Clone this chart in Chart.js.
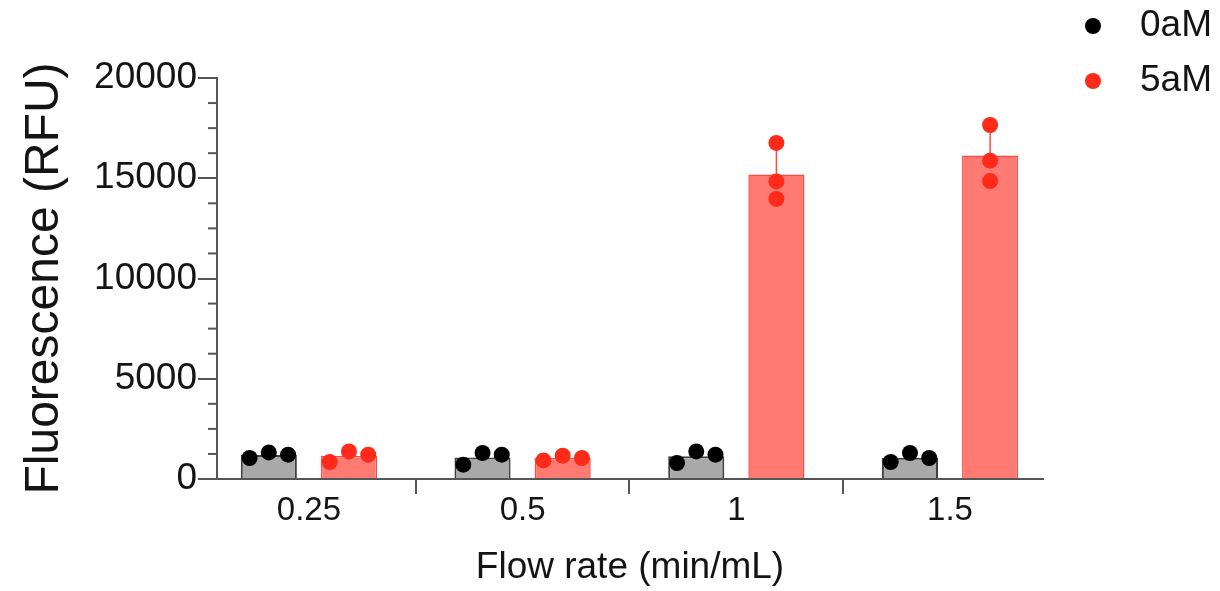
<!DOCTYPE html>
<html>
<head>
<meta charset="utf-8">
<script src="https://cdn.jsdelivr.net/npm/chart.js@4"></script>
<style>
  html, body { margin: 0; padding: 0; background: #fff; }
  #wrap { width: 1220px; height: 591px; position: relative; }
</style>
</head>
<body>
<div id="wrap"><canvas id="chart"></canvas></div>
<script>
// values (three replicates per flow rate)
const categories = ['0.25', '0.5', '1', '1.5'];
const seriesNames = ['0aM', '5aM'];
const values0aM = [[1047, 1327, 1212], [713, 1297, 1212], [798, 1377, 1212], [848, 1297, 1047]];
const values5aM = [[848, 1377, 1212], [928, 1162, 1047], [16760, 14840, 13970], [17655, 15875, 14860]];
const yTicks = [0, 5000, 10000, 15000, 20000];
const yMinorStep = 1250;

const barColors = ['#a9a9a9', '#ff7a72'];
const barBorders = ['#404040', '#ff4a3c'];
const dotColors = ['#000000', '#ff2a1a'];
const textColor = '#141414';
const axisColor = '#555555';

const catPct = 0.75;
const barPct = 0.7;
const groupShift = catPct / 4;   // centre of each bar inside its group, in x units
const dotSpread = 0.09;

const mean = a => a.reduce((s, v) => s + v, 0) / a.length;
const sd = a => {
    const m = mean(a);
    return Math.sqrt(a.reduce((s, v) => s + (v - m) ** 2, 0) / (a.length - 1));
};

function barPoints(values) {
    return values.map((reps, i) => ({ x: i, y: mean(reps) }));
}

// dots spread sideways only when they would overlap (like Prism)
function dotPoints(values, side) {
    const pts = [];
    values.forEach((reps, i) => {
        const spread = Math.max(...reps) - Math.min(...reps) < 1000 ? dotSpread : 0;
        reps.forEach((v, k) => pts.push({ x: i + side * groupShift + (k - 1) * spread, y: v }));
    });
    return pts;
}

// SD whiskers, drawn right after each bar so the dots sit on top
const errorBars = {
    id: 'errorBars',
    afterDatasetDraw(chart, args) {
        const ds = chart.data.datasets[args.index];
        if (!ds.replicates) return;
        const y = chart.scales.y;
        const ctx = chart.ctx;
        ctx.save();
        ctx.strokeStyle = ds.borderColor;
        ctx.lineWidth = 1.5;
        args.meta.data.forEach((bar, i) => {
            const reps = ds.replicates[i];
            const m = mean(reps);
            ctx.beginPath();
            ctx.moveTo(bar.x, y.getPixelForValue(m));
            ctx.lineTo(bar.x, y.getPixelForValue(m + sd(reps)));
            ctx.stroke();
        });
        ctx.restore();
    }
};

const minorTicks = {
    id: 'minorTicks',
    afterDraw(chart) {
        const y = chart.scales.y;
        const ctx = chart.ctx;
        const x0 = chart.chartArea.left;
        ctx.save();
        ctx.strokeStyle = axisColor;
        ctx.lineWidth = 2;
        for (let v = yMinorStep; v < y.max; v += yMinorStep) {
            if (yTicks.includes(v)) continue;
            const py = y.getPixelForValue(v);
            ctx.beginPath();
            ctx.moveTo(x0 - 9, py);
            ctx.lineTo(x0, py);
            ctx.stroke();
        }
        ctx.restore();
    }
};

const dotLegend = {
    id: 'dotLegend',
    afterDraw(chart) {
        const ctx = chart.ctx;
        ctx.save();
        ctx.font = '37px "Liberation Sans", Arial, sans-serif';
        ctx.textBaseline = 'middle';
        seriesNames.forEach((name, i) => {
            const cy = 26 + i * 55;
            ctx.fillStyle = dotColors[i];
            ctx.beginPath();
            ctx.arc(1093, cy, 8, 0, Math.PI * 2);
            ctx.fill();
            ctx.fillStyle = textColor;
            ctx.fillText(name, 1140, cy);
        });
        ctx.restore();
    }
};

Chart.defaults.font.family = '"Liberation Sans", Arial, sans-serif';
Chart.defaults.color = textColor;

new Chart(document.getElementById('chart'), {
    type: 'bar',
    data: {
        datasets: [
            {
                type: 'scatter', label: seriesNames[0] + ' replicates', order: 1,
                data: dotPoints(values0aM, -1),
                backgroundColor: dotColors[0], borderWidth: 0, pointRadius: 8
            },
            {
                type: 'scatter', label: seriesNames[1] + ' replicates', order: 1,
                data: dotPoints(values5aM, 1),
                backgroundColor: dotColors[1], borderWidth: 0, pointRadius: 8
            },
            {
                label: seriesNames[0], order: 2,
                data: barPoints(values0aM), replicates: values0aM,
                backgroundColor: barColors[0], borderColor: barBorders[0], borderWidth: 2,
                categoryPercentage: catPct, barPercentage: barPct
            },
            {
                label: seriesNames[1], order: 2,
                data: barPoints(values5aM), replicates: values5aM,
                backgroundColor: barColors[1], borderColor: barBorders[1], borderWidth: 1.5,
                categoryPercentage: catPct, barPercentage: barPct
            }
        ]
    },
    options: {
        responsive: true,
        maintainAspectRatio: false,
        animation: false,
        events: [],
        layout: { padding: { top: 78, right: 177, left: 0, bottom: 0 } },
        plugins: {
            legend: { display: false },
            tooltip: { enabled: false }
        },
        scales: {
            x: {
                type: 'linear',
                min: -0.43,
                max: 3.435,
                offset: false,
                afterBuildTicks: s => { s.ticks = categories.map((c, i) => ({ value: i })); },
                afterFit: s => { s.height = 112; },
                ticks: {
                    callback: v => categories[v],
                    font: { size: 33 }, color: textColor, padding: -3,
                    autoSkip: false, maxRotation: 0
                },
                grid: { drawOnChartArea: false, tickLength: 15, color: axisColor, lineWidth: 2 },
                border: { color: axisColor, width: 2 },
                title: {
                    display: true, text: 'Flow rate (min/mL)',
                    font: { size: 37 }, color: textColor, padding: { bottom: 1 }
                }
            },
            y: {
                min: 0,
                max: 20000,
                afterBuildTicks: s => { s.ticks = yTicks.map(v => ({ value: v })); },
                afterFit: s => { s.width = 217; },
                ticks: { callback: v => String(v), font: { size: 37 }, color: textColor, padding: 1 },
                grid: { drawOnChartArea: false, tickLength: 19, color: axisColor, lineWidth: 2 },
                border: { color: axisColor, width: 2 },
                title: {
                    display: true, text: 'Fluorescence (RFU)',
                    font: { size: 48 }, color: textColor, padding: { top: 16 }
                }
            }
        }
    },
    plugins: [errorBars, minorTicks, dotLegend]
});
</script>
</body>
</html>
